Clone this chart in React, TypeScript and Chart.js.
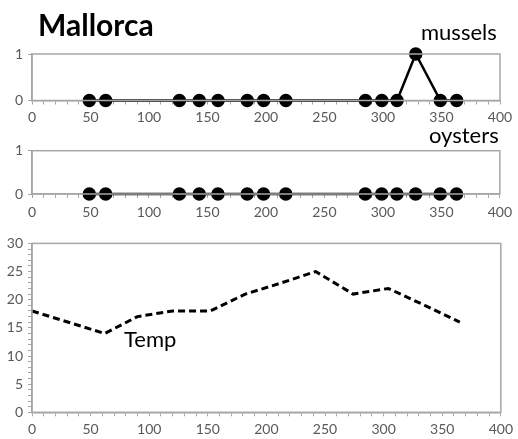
import React, { useEffect, useRef } from "react";
import { Chart, registerables } from "chart.js";

Chart.register(...registerables);

const sampleDays = [49, 63, 126, 143, 159, 184, 198, 217, 285, 299, 312, 328, 349, 363];
const musselsPresence = [0, 0, 0, 0, 0, 0, 0, 0, 0, 0, 0, 1, 0, 0];
const oystersPresence = [0, 0, 0, 0, 0, 0, 0, 0, 0, 0, 0, 0, 0, 0];
const tempDays = [0, 62, 90, 120, 152, 182, 213, 242, 274, 304, 335, 365];
const tempValues = [18, 14, 17, 18, 18, 21, 23, 25, 21, 22, 19, 16];

const TICK_COLOR = "#595959";
const AXIS_COLOR = "#a6a6a6";
const FONT = "Lato";

const boxPlugin = {
  id: "boxBorder",
  afterDraw(chart: any) {
    const { ctx, chartArea } = chart;
    ctx.save();
    ctx.strokeStyle = AXIS_COLOR;
    ctx.lineWidth = 1.5;
    ctx.strokeRect(chartArea.left, chartArea.top, chartArea.right - chartArea.left, chartArea.bottom - chartArea.top);
    ctx.restore();
  },
};

function makeConfig(opts: {
  xs: number[];
  ys: number[];
  yMax: number;
  yStep: number;
  yLabelEvery: number;
  padTop: number;
  padRight: number;
  xHeight: number;
  xPad: number;
  dashed: boolean;
}) {
  const data = opts.xs.map((x, i) => ({ x, y: opts.ys[i] }));
  return {
    type: "line" as const,
    data: {
      datasets: [
        {
          data,
          borderColor: "#000",
          backgroundColor: "#000",
          borderWidth: opts.dashed ? 3 : 2.5,
          borderDash: opts.dashed ? [7, 4] : [],
          pointRadius: opts.dashed ? 0 : 5.5,
          pointHoverRadius: opts.dashed ? 0 : 5.5,
          pointBackgroundColor: "#000",
          pointBorderColor: "#000",
          tension: 0,
          clip: false as any,
        },
      ],
    },
    options: {
      animation: false as const,
      responsive: false,
      maintainAspectRatio: false,
      layout: { padding: { top: opts.padTop, right: opts.padRight, left: 0, bottom: 0 } },
      plugins: { legend: { display: false }, tooltip: { enabled: false }, title: { display: false } },
      scales: {
        x: {
          type: "linear" as const,
          min: 0,
          max: 400,
          afterFit: (s: any) => {
            s.height = opts.xHeight;
          },
          ticks: {
            stepSize: 10,
            autoSkip: false,
            maxRotation: 0,
            color: TICK_COLOR,
            font: { family: FONT, size: 14 },
            padding: opts.xPad,
            callback: (v: any) => (Number(v) % 50 === 0 ? String(v) : ""),
          },
          grid: { drawOnChartArea: false, tickLength: 4, color: AXIS_COLOR },
          border: { color: AXIS_COLOR, width: 1.5 },
        },
        y: {
          type: "linear" as const,
          min: 0,
          max: opts.yMax,
          afterFit: (s: any) => {
            s.width = 32;
          },
          ticks: {
            stepSize: opts.yStep,
            autoSkip: false,
            color: TICK_COLOR,
            font: { family: FONT, size: 14 },
            padding: 5,
            callback: (v: any) => (Number(v) % opts.yLabelEvery === 0 ? String(v) : ""),
          },
          grid: { drawOnChartArea: false, tickLength: 4, color: AXIS_COLOR },
          border: { color: AXIS_COLOR, width: 1.5 },
        },
      },
    },
    plugins: [boxPlugin],
  };
}

function Panel(props: { top: number; height: number; config: any }) {
  const ref = useRef<HTMLCanvasElement | null>(null);
  useEffect(() => {
    if (!ref.current) return;
    const chart = new Chart(ref.current, props.config);
    return () => chart.destroy();
  }, []);
  return (
    <canvas
      ref={ref}
      width={518}
      height={props.height}
      style={{ position: "absolute", left: 0, top: props.top, width: 518, height: props.height }}
    />
  );
}

const labelStyle = (left: number, top: number, size: number, bold = false): React.CSSProperties => ({
  position: "absolute",
  left,
  top,
  fontFamily: FONT,
  fontSize: size,
  fontWeight: bold ? 700 : 400,
  lineHeight: 1,
  color: "#000",
  whiteSpace: "nowrap",
});

export default function App() {
  const c1 = makeConfig({
    xs: sampleDays, ys: musselsPresence, yMax: 1, yStep: 1, yLabelEvery: 1,
    padTop: 24, padRight: 18, xHeight: 29.5, xPad: 5, dashed: false,
  });
  const c2 = makeConfig({
    xs: sampleDays, ys: oystersPresence, yMax: 1, yStep: 1, yLabelEvery: 1,
    padTop: 20.7, padRight: 18, xHeight: 36, xPad: 6, dashed: false,
  });
  const c3 = makeConfig({
    xs: tempDays, ys: tempValues, yMax: 30, yStep: 1, yLabelEvery: 5,
    padTop: 10, padRight: 14, xHeight: 26.7, xPad: 5, dashed: true,
  });
  return (
    <div style={{ position: "fixed", left: 0, top: 0, width: 518, height: 439, background: "#fff", overflow: "hidden" }}>
      <Panel top={30} height={100} config={c1} />
      <Panel top={130} height={100} config={c2} />
      <Panel top={230} height={209} config={c3} />
      <div style={labelStyle(38, 9, 30, true)}>Mallorca</div>
      <div style={labelStyle(421, 21, 22)}>mussels</div>
      <div style={labelStyle(429, 124, 22)}>oysters</div>
      <div style={labelStyle(124, 328, 22)}>Temp</div>
    </div>
  );
}
